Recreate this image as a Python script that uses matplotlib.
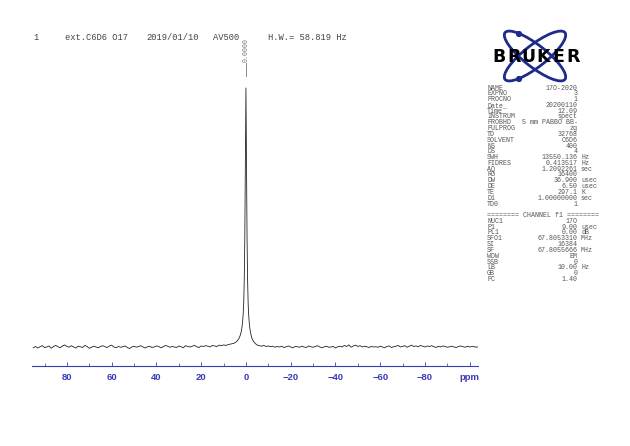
import numpy as np
import matplotlib
matplotlib.use('Agg')
import matplotlib.pyplot as plt
from matplotlib.patches import Ellipse, Circle

# spectrum: baseline left of the peak (95 -> 6 ppm, 1 ppm steps)
base_left = [-3, 2, -4, 1, 5, -2, 0, 4, -5, 2, 6, 1, -3, 4, 8, 2, -1, 5, 0, -4,
             3, 1, -2, 6, 2, -5, -1, 3, 0, -3, 2, 5, 1, -2, 4, 7, 0, -3, 2, -1,
             1, 4, -2, -6, 0, 3, -1, 2, 5, 0, -4, 1, 3, -2, 0, 4, 2, -3, 1, 6,
             3, -1, 2, 0, -2, 4, 1, -3, 5, 2, 0, 3, 6, 1, -2, 4, 2, 5, 3, 0,
             6, 4, 2, 7, 5, 8, 6, 9, 11, 13]
# peak region (5.5 -> -5.5 ppm, 0.25 ppm steps)
peak = [14, 15, 16, 17, 19, 21, 23, 25, 28, 31, 35, 40, 46, 54, 64, 78, 97, 125,
        170, 260, 430, 740, 1000, 730, 420, 255, 165, 120, 92, 72, 58, 47, 38, 32,
        27, 24, 20, 18, 15, 13, 11, 10, 8, 7, 6]
# baseline right of the peak (-6 -> -104 ppm, 1 ppm steps)
base_right = [5, 3, 6, 2, 4, 1, 3, -1, 2, 0, 3, -2, 1, 4, 0, -3, 2, 1, -1, 3,
              0, -2, 4, 1, -1, 2, 5, 0, -3, 1, 3, -1, 0, 2, -4, 1, 3, 0, 6, 2,
              8, -1, 4, 7, 2, 5, 0, 3, 1, -2, 2, 0, 1, -1, 3, 0, -3, 2, 4, -2,
              1, 3, 6, 0, 2, 5, -1, 3, 7, 2, 4, 1, 6, 3, 0, 4, 2, 5, 1, -2,
              3, 0, 4, 2, -1, 1, 3, 0, -2, 2, 4, 1, -1, 3, 0, 2, 1, -1, 2]

ppm = np.concatenate([95 - np.arange(len(base_left)),
                      5.5 - 0.25 * np.arange(len(peak)),
                      -6 - np.arange(len(base_right))])
intensity = np.array(base_left + peak + base_right, dtype=float)

peak_ppm = 0.0
major_ticks = [80, 60, 40, 20, 0, -20, -40, -60, -80, -100]
major_labels = ['80', '60', '40', '20', '0', '\u221220', '\u221240', '\u221260', '\u221280', 'ppm']

title_parts = ['1', 'ext.C6D6 O17', '2019/01/10', 'AV500', 'H.W.= 58.819 Hz']
title_x = [33, 65, 146, 213, 268]

names = ['NAME', 'EXPNO', 'PROCNO', 'Date_', 'Time', 'INSTRUM', 'PROBHD', 'PULPROG',
         'TD', 'SOLVENT', 'NS', 'DS', 'SWH', 'FIDRES', 'AQ', 'RG', 'DW', 'DE', 'TE',
         'D1', 'TD0']
values = ['17O-2020', '3', '1', '20200110', '12.09', 'spect', '5 mm PABBO BB-', 'zg',
          '32768', 'C6D6', '400', '4', '13550.136', '0.413517', '1.2092261', '16400',
          '36.900', '6.50', '297.1', '1.00000000', '1']
units = ['', '', '', '', '', '', '', '', '', '', '', '', 'Hz', 'Hz', 'sec', '',
         'usec', 'usec', 'K', 'sec', '']
ch_names = ['NUC1', 'P1', 'PL1', 'SFO1', 'SI', 'SF', 'WDW', 'SSB', 'LB', 'GB', 'PC']
ch_values = ['17O', '9.00', '0.00', '67.8053310', '16384', '67.8055666', 'EM', '0',
             '10.00', '0', '1.40']
ch_units = ['', 'usec', 'dB', 'MHz', '', 'MHz', '', '', 'Hz', '', '']

W, H = 630, 446
blue = '#3a3ab8'
mono = 'Liberation Mono'


def fx(px):
    return px / W


def fy(py):
    return 1 - py / H


fig = plt.figure(figsize=(W / 100, H / 100), dpi=100)

# spectrum axes
ax = fig.add_axes([fx(32), fy(366), fx(478) - fx(32), fy(20) - fy(366)])
ax.plot(ppm, intensity, color='#222222', lw=0.6)
ax.set_xlim(95.6, -103.7)
ax.set_ylim(-73.4, 1262.6)
for s in ['top', 'left', 'right']:
    ax.spines[s].set_visible(False)
ax.spines['bottom'].set_color(blue)
ax.spines['bottom'].set_linewidth(0.8)
ax.set_yticks([])
ax.set_xticks(major_ticks)
ax.set_xticklabels(major_labels)
ax.set_xticks(np.arange(90, -101, -10), minor=True)
ax.tick_params(axis='x', which='major', direction='in', length=3, width=0.6,
               color=blue, labelcolor=blue, labelsize=6.8, pad=5)
ax.tick_params(axis='x', which='minor', direction='in', length=2, width=0.5, color=blue)
for lab in ax.get_xticklabels():
    lab.set_fontweight('bold')
    lab.set_fontfamily('Liberation Sans')

# peak label
ax.plot([peak_ppm, peak_ppm], [1046, 1096], color='#777777', lw=0.6)
ax.text(peak_ppm, 1100, '%.4f' % peak_ppm, rotation=90, ha='center', va='bottom',
        fontsize=4.8, family=mono, color='#777777')

# title line
for t, x in zip(title_parts, title_x):
    fig.text(fx(x), fy(37), t, fontsize=6.3, family=mono, color='#444444',
             ha='left', va='center')

# parameter table
y0, dy = 88, 5.8
rows = list(zip(names, values, units)) + [None, 'CH'] + list(zip(ch_names, ch_values, ch_units))
for i, r in enumerate(rows):
    y = fy(y0 + i * dy)
    if r is None:
        continue
    if r == 'CH':
        fig.text(fx(487), y, '======== CHANNEL f1 ========', fontsize=4.8, family=mono,
                 color='#555555', ha='left', va='center')
        continue
    n, v, u = r
    fig.text(fx(487), y, n, fontsize=4.8, family=mono, color='#555555', ha='left', va='center')
    fig.text(fx(578), y, v, fontsize=4.8, family=mono, color='#555555', ha='right', va='center')
    if u:
        fig.text(fx(581), y, u, fontsize=4.8, family=mono, color='#555555', ha='left', va='center')

# Bruker logo
lx0, ly0, lw_, lh_ = 486, 28, 104, 56
lax = fig.add_axes([fx(lx0), fy(ly0 + lh_), lw_ / W, lh_ / H])
lax.set_xlim(0, lw_)
lax.set_ylim(lh_, 0)
lax.axis('off')
cx, cy = 535 - lx0, 56 - ly0
for ang in [38, -38]:
    lax.add_patch(Ellipse((cx, cy), 76, 22, angle=ang, fill=False, ec='#1e2a8c', lw=2.0))
for dx, dyy in [(519, 34), (519, 79)]:
    lax.add_patch(Circle((dx - lx0, dyy - ly0), 2.4, color='#1e2a8c'))
for k, ch in enumerate('BRUKER'):
    lax.text(499 - lx0 + k * 14.8, cy + 1, ch, fontsize=12.5, fontweight='heavy',
             family='DejaVu Sans', color='black', ha='center', va='center')

fig.savefig('out.png', dpi=100)
